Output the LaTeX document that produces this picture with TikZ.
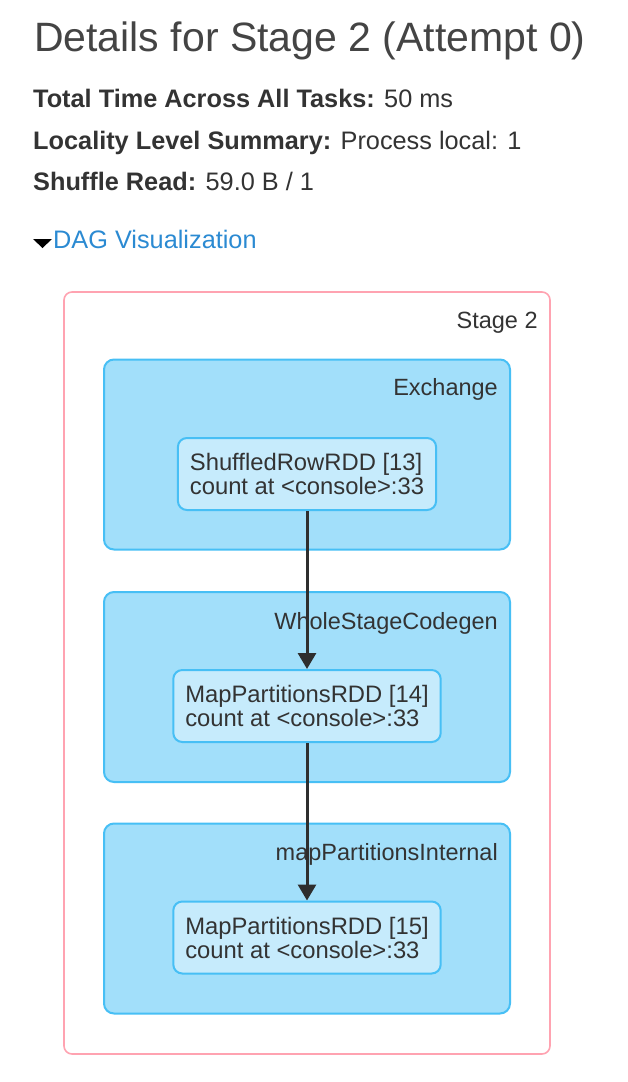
\documentclass[tikz,border=0pt]{standalone}
\usepackage{fontspec}
\setmainfont{Liberation Sans}
\usetikzlibrary{arrows.meta,positioning}
\definecolor{txt}{HTML}{333333}
\definecolor{titlegray}{HTML}{444444}
\definecolor{stagepink}{HTML}{FFA3B1}
\definecolor{clusterfill}{HTML}{A2DFFA}
\definecolor{clusterline}{HTML}{47BFF5}
\definecolor{rddfill}{HTML}{C6EBFC}
\definecolor{edgegray}{HTML}{2E2E2E}
\definecolor{linkblue}{HTML}{2B8AD2}
\begin{document}
\begin{tikzpicture}[x=1pt, y=-1pt,
    every node/.style={text=txt, inner sep=0pt},
    stagebox/.style={draw=stagepink, line width=1.6pt, rounded corners=8pt, fill=white,
        minimum width=486pt, minimum height=762pt},
    cluster/.style={draw=clusterline, fill=clusterfill, line width=2pt, rounded corners=10pt,
        minimum width=406pt, minimum height=190pt},
    rdd/.style={draw=clusterline, fill=rddfill, line width=2pt, rounded corners=9pt,
        inner xsep=12pt, minimum height=72pt, align=left,
        font=\fontsize{23.8}{24}\selectfont},
    grouplabel/.style={anchor=base east, font=\fontsize{23.5}{28}\selectfont},
    info/.style={anchor=base west, font=\fontsize{25.3}{30}\selectfont},
    edge/.style={draw=edgegray, line width=3pt, -{Triangle[width=18pt,length=16pt]}}]
    \useasboundingbox (0,0) rectangle (628,1082);

    % page header
    \node[anchor=base west, text=titlegray, font=\fontsize{41}{48}\selectfont] (title) at (34,51)
        {Details for Stage 2 (Attempt 0)};
    \node[info] (totaltime) at (33,107) {\textbf{Total Time Across All Tasks:} 50 ms};
    \node[info] (locality) at (33,149) {\textbf{Locality Level Summary:} Process local: 1};
    \node[info] (shuffle) at (33,190) {\textbf{Shuffle Read:} 59.0 B / 1};
    \fill[black] (33,239) -- (52,239) -- (42.5,248) -- cycle;
    \node[info, text=linkblue] (dagtoggle) at (53,248) {DAG Visualization};

    % stage and clusters
    \node[stagebox] (stage) at (307,673) {};
    \node[grouplabel] (stagelbl) at ([shift={(-13,37)}]stage.north east) {Stage 2};

    \node[cluster] (exchange) at (307,454.5) {};
    \node[grouplabel] (exchangelbl) at ([shift={(-13,37)}]exchange.north east) {Exchange};
    \node[cluster] (codegen) at (307,687) {};
    \node[grouplabel] (codegenlbl) at ([shift={(-13,38)}]codegen.north east) {WholeStageCodegen};
    \node[cluster] (mapint) at (307,918.5) {};
    \node[grouplabel] (mapintlbl) at ([shift={(-13,38)}]mapint.north east) {mapPartitionsInternal};

    % RDDs
    \node[rdd] (rdd13) at (307,474) {ShuffledRowRDD [13]\\count at <console>:33};
    \node[rdd] (rdd14) at (307,706) {MapPartitionsRDD [14]\\count at <console>:33};
    \node[rdd] (rdd15) at (307,937.5) {MapPartitionsRDD [15]\\count at <console>:33};

    \draw[edge] (rdd13) -- (rdd14);
    \draw[edge] (rdd14) -- (rdd15);
\end{tikzpicture}
\end{document}
